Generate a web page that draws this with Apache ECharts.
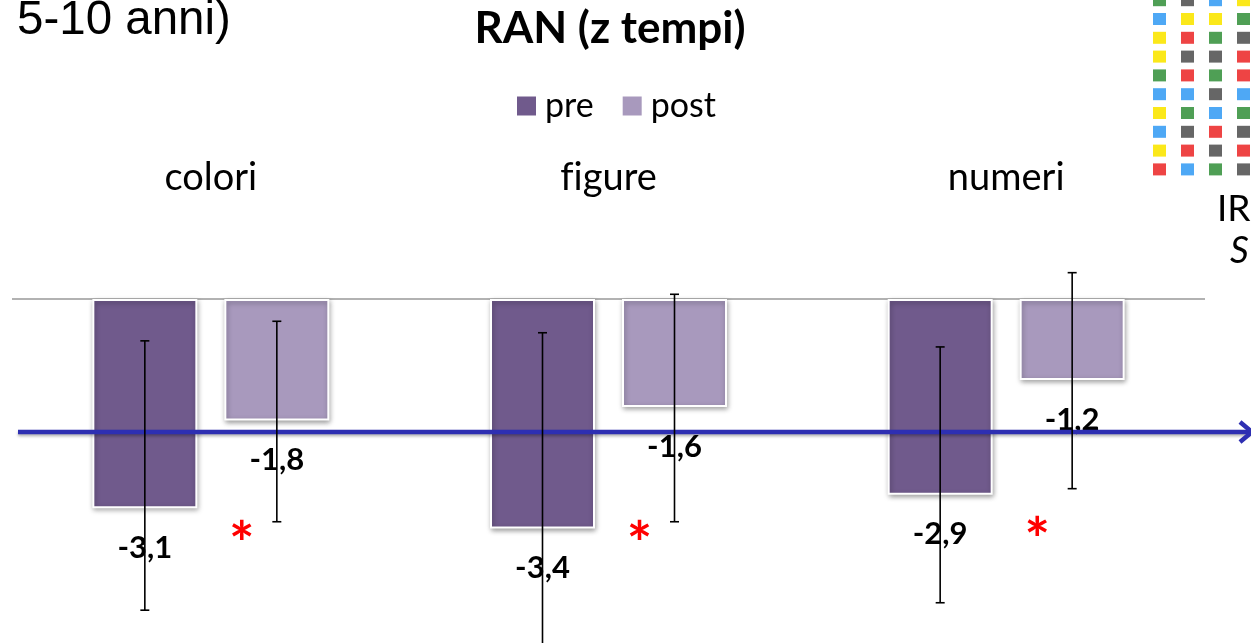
<!DOCTYPE html>
<html>
<head>
<meta charset="utf-8">
<script src="https://cdn.jsdelivr.net/npm/echarts@6/dist/echarts.min.js"></script>
<style>
  html, body { margin: 0; padding: 0; background: #ffffff; }
  #chart { width: 1251px; height: 643px; }
</style>
</head>
<body>
<div id="chart"></div>
<script>
// RAN z-scores, pre vs post, per stimulus type
const categories = ['colori', 'figure', 'numeri'];
const seriesNames = ['pre', 'post'];
const preValues = [-3.1, -3.4, -2.9];
const postValues = [-1.8, -1.6, -1.2];
// error bar extents (upper / lower ends)
const preErrHigh = [-0.62, -0.50, -0.71];
const preErrLow = [-4.61, -5.30, -4.50];
const postErrHigh = [-0.33, 0.07, 0.39];
const postErrLow = [-3.30, -3.30, -2.81];
// significant pre/post difference marker level
const significantAt = [-3.5, -3.5, -3.45];
// clinical threshold line
const cutoff = -1.97;

// RAN colour-naming grid (top right)
const tileRows = [
  'GKBY', 'BYYG', 'YRGK', 'YKKR', 'GRGR',
  'BBKB', 'YGBG', 'BKRK', 'YRKR', 'RBGK'
];
const tilePalette = { G: '#4f9f55', K: '#666666', B: '#4ea8f5', Y: '#fbe81a', R: '#ee4444' };

const PRE_COLOR = '#705a8c';
const POST_COLOR = '#a899bd';
const BAR_W = 105;
const BAR_GAP = 27;
const FONT = 'Lato, "Open Sans", sans-serif';

const chart = echarts.init(document.getElementById('chart'), null, { renderer: 'canvas' });

function fmt(v) { return String(v).replace('.', ','); }

const errData = [];
categories.forEach((c, i) => {
  errData.push([i, preErrLow[i], preErrHigh[i], 0]);
  errData.push([i, postErrLow[i], postErrHigh[i], 1]);
});

const barStyle = (color) => ({
  color: color,
  borderColor: '#ffffff',
  borderWidth: 2,
  shadowBlur: 5,
  shadowColor: 'rgba(0,0,0,0.35)',
  shadowOffsetX: 1,
  shadowOffsetY: 2
});

const barLabel = {
  show: true,
  position: 'outside',
  distance: 24,
  fontFamily: FONT,
  fontWeight: 'bold',
  fontSize: 31,
  color: '#000000',
  formatter: (p) => fmt(p.value)
};

const option = {
  animation: false,
  backgroundColor: '#ffffff',
  title: {
    text: 'RAN (z tempi)',
    left: 605,
    top: 2,
    textAlign: 'center',
    textStyle: { fontFamily: FONT, fontWeight: 'bold', fontSize: 44, color: '#000000' }
  },
  legend: {
    data: seriesNames,
    left: 515,
    top: 89,
    padding: 0,
    icon: 'rect',
    itemWidth: 21,
    itemHeight: 21,
    itemGap: 27,
    textStyle: { fontFamily: FONT, fontSize: 34, color: '#000000', padding: [0, 0, 0, 3] }
  },
  grid: { left: 12, right: 46, top: 231.5, bottom: 6.5, containLabel: false },
  xAxis: {
    type: 'category',
    data: categories,
    position: 'top',
    axisLine: { show: false },
    axisTick: { show: false },
    splitLine: { show: false },
    axisLabel: {
      fontFamily: FONT, fontSize: 38, color: '#000000', margin: 35,
      // keep "f" and "i" as separate glyphs
      formatter: (v) => v.replace('fi', 'f\u200Ci')
    }
  },
  yAxis: {
    type: 'value',
    min: -5,
    max: 1,
    interval: 1,
    show: false,
    splitLine: { show: false }
  },
  series: [
    {
      name: 'pre',
      type: 'bar',
      data: preValues,
      barWidth: BAR_W,
      barGap: (BAR_GAP / BAR_W * 100).toFixed(1) + '%',
      itemStyle: barStyle(PRE_COLOR),
      label: barLabel,
      z: 2,
      markLine: {
        silent: true,
        symbol: 'none',
        label: { show: false },
        lineStyle: { color: '#999999', width: 1.5, type: 'solid' },
        data: [{ yAxis: 0 }],
        z: 1
      }
    },
    {
      name: 'post',
      type: 'bar',
      data: postValues,
      barWidth: BAR_W,
      itemStyle: barStyle(POST_COLOR),
      label: barLabel,
      z: 2
    },
    {
      name: 'errori',
      type: 'custom',
      z: 5,
      silent: true,
      data: errData,
      encode: { x: 0, y: [1, 2] },
      renderItem: (params, api) => {
        const idx = api.value(0);
        const shift = (api.value(3) === 0 ? -1 : 1) * (BAR_W + BAR_GAP) / 2;
        const lo = api.coord([idx, api.value(1)]);
        const hi = api.coord([idx, api.value(2)]);
        const x = lo[0] + shift;
        const cap = 4.5;
        const st = { stroke: '#000000', lineWidth: 1.6 };
        return {
          type: 'group',
          children: [
            { type: 'line', shape: { x1: x, y1: hi[1], x2: x, y2: lo[1] }, style: st },
            { type: 'line', shape: { x1: x - cap, y1: hi[1], x2: x + cap, y2: hi[1] }, style: st },
            { type: 'line', shape: { x1: x - cap, y1: lo[1], x2: x + cap, y2: lo[1] }, style: st }
          ]
        };
      }
    },
    {
      name: 'sig',
      type: 'custom',
      z: 5,
      silent: true,
      data: significantAt.map((v, i) => [i, v]),
      renderItem: (params, api) => {
        const p = api.coord([api.value(0), api.value(1)]);
        return {
          type: 'text',
          x: p[0] + 31,
          y: p[1] + 10,
          style: {
            text: '*',
            fill: '#ff0000',
            fontFamily: FONT,
            fontWeight: 'bold',
            fontSize: 60,
            align: 'center',
            verticalAlign: 'middle'
          }
        };
      }
    }
  ]
};

chart.setOption(option);

// threshold arrow and slide decorations placed through the axis scale
const yCut = chart.convertToPixel({ yAxisIndex: 0 }, cutoff);
const graphics = [
  {
    type: 'line', z: 3, silent: true,
    shape: { x1: 18, y1: yCut, x2: 1251, y2: yCut },
    style: { stroke: '#2e2fb2', lineWidth: 4.5, shadowBlur: 3, shadowColor: 'rgba(0,0,0,0.3)', shadowOffsetY: 2 }
  },
  {
    type: 'polyline', z: 3, silent: true,
    shape: { points: [[1240, yCut - 10], [1252, yCut], [1240, yCut + 10]] },
    style: { stroke: '#2e2fb2', lineWidth: 4.5, fill: null }
  },
  {
    type: 'text', left: 17, top: -3, silent: true,
    style: { text: '5-10 anni)', fontFamily: '"Liberation Sans", Arial, sans-serif', fontSize: 47.5, fill: '#000000' }
  },
  {
    type: 'text', left: 1217, top: 191, silent: true,
    style: { text: 'IR', fontFamily: FONT, fontSize: 37, fill: '#000000' }
  },
  {
    type: 'text', left: 1230, top: 233, silent: true,
    style: { text: 'S', fontFamily: FONT, fontStyle: 'italic', fontSize: 37, fill: '#000000' }
  }
];
const tileX = [1153, 1181, 1209, 1237];
tileRows.forEach((row, r) => {
  row.split('').forEach((code, c) => {
    graphics.push({
      type: 'rect', silent: true,
      shape: { x: tileX[c], y: -5.8 + r * 18.8, width: 13, height: 12 },
      style: { fill: tilePalette[code] }
    });
  });
});
chart.setOption({ graphic: graphics });
</script>
</body>
</html>
